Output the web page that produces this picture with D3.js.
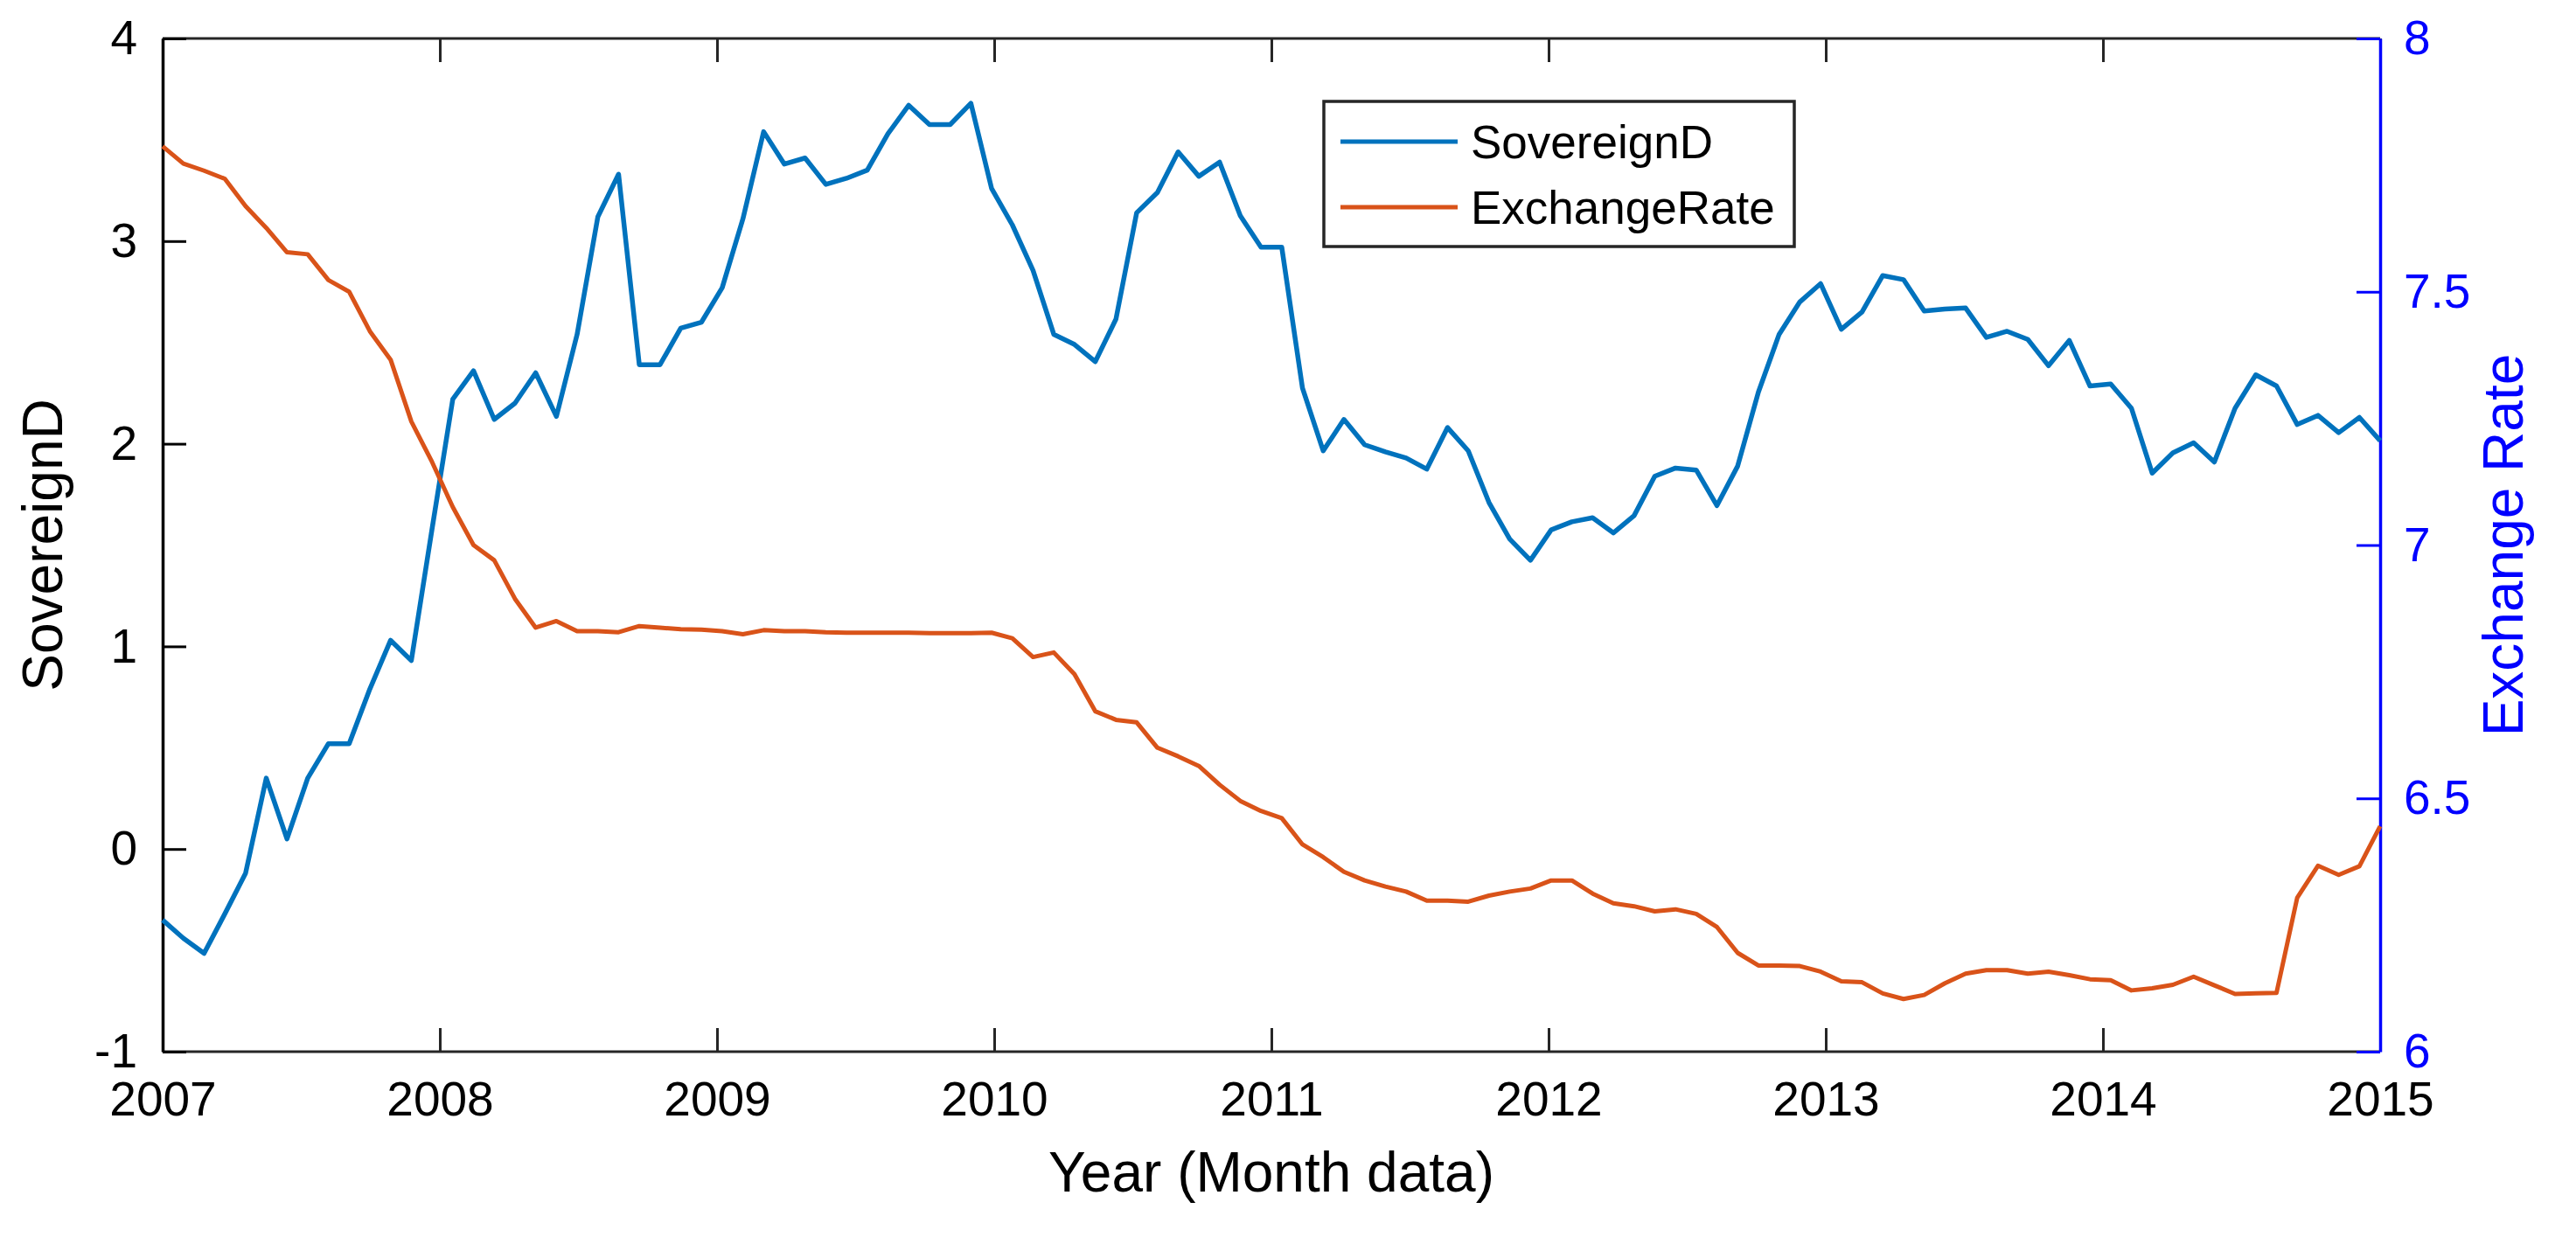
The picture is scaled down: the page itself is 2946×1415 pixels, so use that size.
<!DOCTYPE html>
<head>
  <meta charset="utf-8">
  <script src="https://d3js.org/d3.v7.min.js"></script>
  <style>
    body { margin: 0; background: #fff; }
    text { font-family: "Liberation Sans", Arial, sans-serif; }
  </style>
</head>

<body>
  <script>
  // monthly points, evenly spread from 2007 to 2015
  var sovereignD = [
    -0.35, -0.44, -0.515, -0.32, -0.12, 0.35, 0.05, 0.35, 0.52, 0.52, 0.79, 1.03,
    0.93, 1.58, 2.22, 2.36, 2.12, 2.20, 2.35, 2.135, 2.54, 3.12, 3.33, 2.39,
    2.39, 2.57, 2.60, 2.77, 3.11, 3.54, 3.38, 3.41, 3.28, 3.31, 3.35, 3.53,
    3.67, 3.575, 3.575, 3.68, 3.26, 3.08, 2.855, 2.54, 2.49, 2.405, 2.615, 3.14,
    3.24, 3.44, 3.32, 3.39, 3.125, 2.97, 2.97, 2.275, 1.965, 2.12, 1.995, 1.96,
    1.93, 1.875, 2.08, 1.965, 1.71, 1.53, 1.425, 1.575, 1.615, 1.635, 1.56, 1.645,
    1.84, 1.88, 1.87, 1.695, 1.89, 2.255, 2.54, 2.70, 2.79, 2.565, 2.65, 2.83,
    2.81, 2.655, 2.665, 2.67, 2.525, 2.555, 2.515, 2.385, 2.51, 2.285, 2.295, 2.175,
    1.855, 1.955, 2.005, 1.91, 2.175, 2.34, 2.285, 2.095, 2.14, 2.055, 2.13, 2.015
  ];

  var exchangeRate = [
    7.787, 7.753, 7.739, 7.723, 7.669, 7.626, 7.578, 7.574, 7.523, 7.500, 7.422, 7.366,
    7.244, 7.164, 7.075, 7.000, 6.970, 6.894, 6.837, 6.850, 6.830, 6.830, 6.828, 6.840,
    6.837, 6.834, 6.833, 6.830, 6.824, 6.832, 6.830, 6.830, 6.828, 6.827, 6.827, 6.827,
    6.827, 6.826, 6.826, 6.826, 6.827, 6.816, 6.779, 6.788, 6.745, 6.672, 6.655, 6.650,
    6.600, 6.583, 6.564, 6.527, 6.495, 6.475, 6.461, 6.409, 6.384, 6.355, 6.338, 6.326,
    6.316, 6.298, 6.298, 6.296, 6.308, 6.316, 6.322, 6.338, 6.338, 6.312, 6.293, 6.287,
    6.277, 6.281, 6.272, 6.246, 6.195, 6.170, 6.170, 6.169, 6.158, 6.139, 6.137, 6.115,
    6.104, 6.112, 6.135, 6.154, 6.161, 6.161, 6.154, 6.158, 6.151, 6.143, 6.141, 6.121,
    6.125, 6.132, 6.148, 6.131, 6.114, 6.115, 6.116, 6.304, 6.367, 6.349, 6.366, 6.445
  ];

  var yearTicks = [2007, 2008, 2009, 2010, 2011, 2012, 2013, 2014, 2015];
  var leftTicks = [-1, 0, 1, 2, 3, 4];
  var rightTicks = [6, 6.5, 7, 7.5, 8];
  var seriesNames = ["SovereignD", "ExchangeRate"];

  var W = 2946, H = 1415;
  var pLeft = 186, pRight = 2722, pTop = 44, pBottom = 1203;
  var tickLen = 27;
  var blue = "#0072BD", orange = "#D95319", axisBlue = "#0000FF";
  var font = "Liberation Sans, Arial, sans-serif";

  var svg = d3.select("body").append("svg")
      .attr("width", W)
      .attr("height", H)
      .style("background", "#fff");

  var x = d3.scaleLinear().domain([2007, 2015]).range([pLeft, pRight]);
  var yL = d3.scaleLinear().domain([-1, 4]).range([pBottom, pTop]);
  var yR = d3.scaleLinear().domain([6, 8]).range([pBottom, pTop]);

  var n = sovereignD.length;
  function t(i) { return 2007 + i * 8 / (n - 1); }
  function plain(d) { return String(d); }   // keeps "-1" with a hyphen like matlab

  // box top / bottom
  svg.append("line").attr("x1", pLeft).attr("x2", pRight).attr("y1", pTop).attr("y2", pTop)
      .attr("stroke", "#262626").attr("stroke-width", 3);
  svg.append("line").attr("x1", pLeft).attr("x2", pRight).attr("y1", pBottom).attr("y2", pBottom)
      .attr("stroke", "#262626").attr("stroke-width", 3);

  // x axis (bottom + mirrored top ticks)
  var xAxis = svg.append("g")
      .attr("transform", "translate(0," + pBottom + ")")
      .call(d3.axisBottom(x).tickValues(yearTicks).tickFormat(plain)
        .tickSizeInner(-tickLen).tickSizeOuter(0).tickPadding(34));
  xAxis.select(".domain").remove();
  xAxis.selectAll("line").attr("stroke", "#262626").attr("stroke-width", 3);
  xAxis.selectAll("text").attr("font-size", 55).attr("fill", "#000")
      .attr("font-family", font);

  var xTop = svg.append("g")
      .attr("transform", "translate(0," + pTop + ")")
      .call(d3.axisTop(x).tickValues(yearTicks).tickFormat("")
        .tickSizeInner(-tickLen).tickSizeOuter(0));
  xTop.select(".domain").remove();
  xTop.selectAll("line").attr("stroke", "#262626").attr("stroke-width", 3);

  // left axis
  var yAxisL = svg.append("g")
      .attr("transform", "translate(" + pLeft + ",0)")
      .call(d3.axisLeft(yL).tickValues(leftTicks).tickFormat(plain)
        .tickSizeInner(-tickLen).tickSizeOuter(0).tickPadding(29));
  yAxisL.select(".domain").attr("stroke", "#000").attr("stroke-width", 3.5);
  yAxisL.selectAll("line").attr("stroke", "#000").attr("stroke-width", 3);
  yAxisL.selectAll("text").attr("font-size", 55).attr("fill", "#000")
      .attr("font-family", font);

  // right axis
  var yAxisR = svg.append("g")
      .attr("transform", "translate(" + pRight + ",0)")
      .call(d3.axisRight(yR).tickValues(rightTicks).tickFormat(plain)
        .tickSizeInner(-tickLen).tickSizeOuter(0).tickPadding(27));
  yAxisR.select(".domain").attr("stroke", axisBlue).attr("stroke-width", 3.5);
  yAxisR.selectAll("line").attr("stroke", axisBlue).attr("stroke-width", 3);
  yAxisR.selectAll("text").attr("font-size", 55).attr("fill", axisBlue)
      .attr("font-family", font);

  // lines
  var lineL = d3.line()
      .x(function(d, i) { return x(t(i)); })
      .y(function(d) { return yL(d); });
  var lineR = d3.line()
      .x(function(d, i) { return x(t(i)); })
      .y(function(d) { return yR(d); });

  svg.append("path").datum(sovereignD)
      .attr("fill", "none").attr("stroke", blue).attr("stroke-width", 5.5)
      .attr("stroke-linejoin", "round")
      .attr("d", lineL);
  svg.append("path").datum(exchangeRate)
      .attr("fill", "none").attr("stroke", orange).attr("stroke-width", 5)
      .attr("stroke-linejoin", "round")
      .attr("d", lineR);

  // axis titles
  svg.append("text")
      .attr("x", (pLeft + pRight) / 2).attr("y", 1363)
      .attr("text-anchor", "middle").attr("font-size", 64)
      .text("Year (Month data)");
  svg.append("text")
      .attr("transform", "translate(71," + (pTop + pBottom) / 2 + ")rotate(-90)")
      .attr("text-anchor", "middle").attr("font-size", 64)
      .text("SovereignD");
  svg.append("text")
      .attr("transform", "translate(2885," + (pTop + pBottom) / 2 + ")rotate(-90)")
      .attr("text-anchor", "middle").attr("font-size", 64)
      .attr("fill", axisBlue)
      .text("Exchange Rate");

  // legend
  var legend = svg.append("g");
  legend.append("rect")
      .attr("x", 1514).attr("y", 116).attr("width", 538).attr("height", 166)
      .attr("fill", "#fff").attr("stroke", "#262626").attr("stroke-width", 3.5);
  var items = legend.selectAll("g.item")
      .data(seriesNames)
      .enter().append("g")
      .attr("transform", function(d, i) { return "translate(1533," + (162 + i * 75) + ")"; });
  items.append("line")
      .attr("x2", 134)
      .attr("stroke", function(d, i) { return i === 0 ? blue : orange; })
      .attr("stroke-width", 5);
  items.append("text")
      .attr("x", 149).attr("dy", "0.35em")
      .attr("font-size", 53)
      .text(function(d) { return d; });
  </script>
</body>
